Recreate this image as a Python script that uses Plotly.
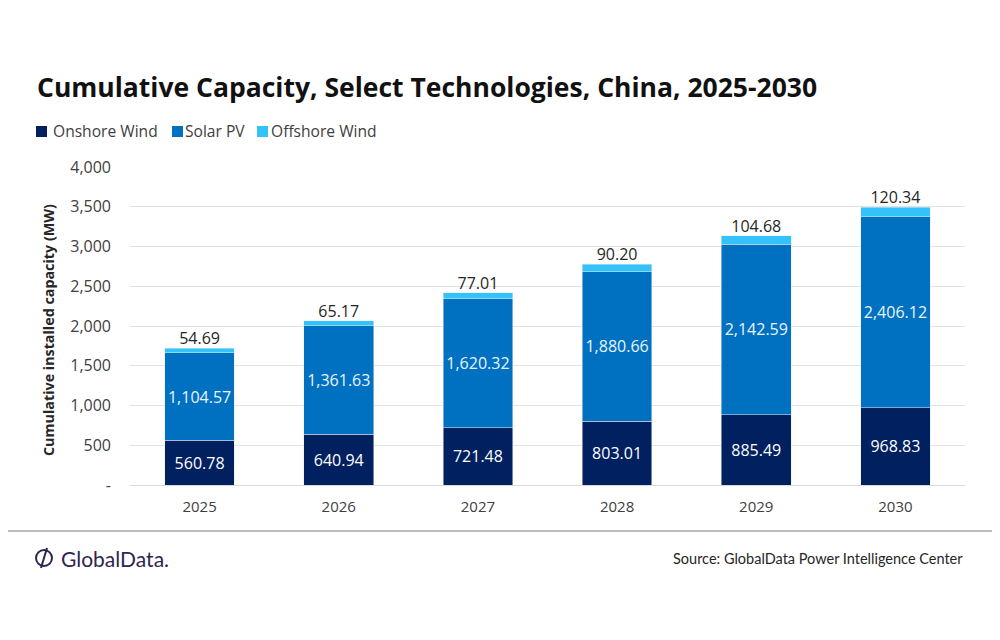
import plotly.graph_objects as go

years = ["2025", "2026", "2027", "2028", "2029", "2030"]
onshore = [560.78, 640.94, 721.48, 803.01, 885.49, 968.83]
solar = [1104.57, 1361.63, 1620.32, 1880.66, 2142.59, 2406.12]
offshore = [54.69, 65.17, 77.01, 90.20, 104.68, 120.34]

names = ["Onshore Wind", "Solar PV", "Offshore Wind"]
colors = ["#002060", "#0070C0", "#33C3FA"]

totals = [a + b + c for a, b, c in zip(onshore, solar, offshore)]

font = "Open Sans"


# sayfa pikselinden paper koordinatina (sayfa 8px kenar boslugu ile)
def px(x):
    return (x - 130) / 835


def py(y):
    return (485 - y) / 318


fig = go.Figure()
fig.add_trace(go.Bar(x=years, y=onshore, name=names[0], marker_color=colors[0],
                     text=[f"{v:,.2f}" for v in onshore], textposition="inside",
                     insidetextanchor="middle", textfont=dict(color="white", size=16, family=font)))
fig.add_trace(go.Bar(x=years, y=solar, name=names[1], marker_color=colors[1],
                     text=[f"{v:,.2f}" for v in solar], textposition="inside",
                     insidetextanchor="middle", textfont=dict(color="#EAF4FF", size=16, family=font)))
fig.add_trace(go.Bar(x=years, y=offshore, name=names[2], marker_color=colors[2]))
# etiketler bar ustunde
fig.add_trace(go.Scatter(x=years, y=totals, mode="text", showlegend=False,
                         text=[f"{v:,.2f}" for v in offshore], textposition="top center",
                         textfont=dict(color="#262626", size=16, family=font), hoverinfo="skip"))

fig.update_layout(
    width=992, height=632,
    barmode="stack", bargap=0.5,
    plot_bgcolor="white", paper_bgcolor="white",
    margin=dict(l=122, r=35, t=159, b=155),
    font=dict(family=font, color="#404040", size=14),
    title=dict(text="<b>Cumulative Capacity, Select Technologies, China, 2025-2030</b>",
               x=29 / 992, xanchor="left", y=1 - 80 / 632, yanchor="middle",
               font=dict(size=26.5, color="#111111", family=font)),
    showlegend=False,
)
fig.update_yaxes(range=[0, 4000], tickvals=[0, 500, 1000, 1500, 2000, 2500, 3000, 3500, 4000],
                 ticktext=["-", "500", "1,000", "1,500", "2,000", "2,500", "3,000", "3,500", "4,000"],
                 showgrid=True, gridcolor="#E3E3E3", zeroline=False, showline=False,
                 ticklabelstandoff=18, tickfont=dict(size=16, color="#404040"))
fig.update_xaxes(showline=True, linecolor="#D9D9D9", tickfont=dict(size=15, color="#404040"),
                 ticklabelstandoff=8)

fig.add_annotation(text="<b>Cumulative installed capacity (MW)</b>", textangle=-90,
                   xref="paper", yref="paper", x=px(48), xanchor="center", y=py(330),
                   yanchor="middle", showarrow=False,
                   font=dict(size=14.3, color="#262626"))

# lejant
leg_sq = [36, 172, 257]
leg_tx = [51, 183, 269]
for name, col, sx, tx in zip(names, colors, leg_sq, leg_tx):
    fig.add_shape(type="rect", xref="paper", yref="paper", x0=px(sx), x1=px(sx + 11),
                  y0=py(137), y1=py(126), fillcolor=col, line_width=0)
    fig.add_annotation(text=name, xref="paper", yref="paper", x=px(tx), xanchor="left",
                       y=py(131), yanchor="middle", showarrow=False,
                       font=dict(size=15.6, color="#404040"))

# alt cizgi ve kaynak
fig.add_shape(type="line", xref="paper", yref="paper", x0=px(-10), x1=px(1010),
              y0=py(531), y1=py(531), line=dict(color="#A6A6A6", width=1.5))
fig.add_annotation(text="Source: GlobalData Power Intelligence Center", xref="paper", yref="paper",
                   x=px(965), xanchor="right", y=py(558), yanchor="middle", showarrow=False,
                   font=dict(size=14.5, color="#262626", family="Lato"))

# logo
fig.add_shape(type="circle", xref="paper", yref="paper",
              x0=px(36), x1=px(52), y0=py(566), y1=py(550),
              line=dict(color="#2E2550", width=2))
fig.add_shape(type="line", xref="paper", yref="paper",
              x0=px(41), x1=px(47), y0=py(568), y1=py(548),
              line=dict(color="#2E2550", width=2))
fig.add_annotation(text="GlobalData.", xref="paper", yref="paper",
                   x=px(59), xanchor="left", y=py(558), yanchor="middle",
                   showarrow=False, font=dict(size=21, color="#2E2550", family="Lato"))

fig.write_html("out.html")
